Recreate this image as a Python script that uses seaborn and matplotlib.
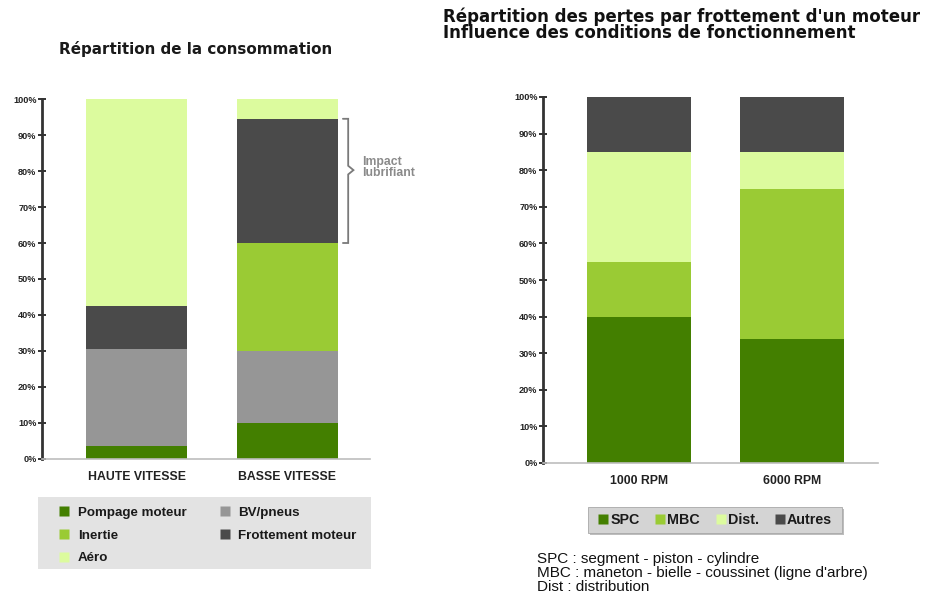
import matplotlib
matplotlib.use("Agg")
import matplotlib.pyplot as plt
import matplotlib.patches as mpatches
from matplotlib.lines import Line2D
import numpy as np
import pandas as pd
import seaborn as sns

# ---------------- data ----------------
left_categories = ["HAUTE VITESSE", "BASSE VITESSE"]
left_series = ["Pompage moteur", "BV/pneus", "Inertie", "Frottement moteur", "Aéro"]
pompage = [3.5, 10.0]
bv_pneus = [27.0, 20.0]
inertie = [0.0, 30.0]
frottement = [12.0, 34.5]
aero = [57.5, 5.5]

right_categories = ["1000 RPM", "6000 RPM"]
right_series = ["SPC", "MBC", "Dist.", "Autres"]
spc = [40.0, 34.0]
mbc = [15.0, 41.0]
dist = [30.0, 10.0]
autres = [15.0, 15.0]

y_ticks = [0, 10, 20, 30, 40, 50, 60, 70, 80, 90, 100]
y_tick_labels = [f"{t}%" for t in y_ticks]

# ---------------- style ----------------
sns.set_theme(style="white")
plt.rcParams["font.family"] = ["Liberation Sans", "DejaVu Sans"]

DARK_GREEN = "#437f00"
LIGHT_GREEN = "#9acb34"
PALE = "#dcfb9e"
GRAY = "#969696"
DARK_GRAY = "#4a4a4a"

left_colors = {"Pompage moteur": DARK_GREEN, "BV/pneus": GRAY, "Inertie": LIGHT_GREEN,
               "Frottement moteur": DARK_GRAY, "Aéro": PALE}
right_colors = {"SPC": DARK_GREEN, "MBC": LIGHT_GREEN, "Dist.": PALE, "Autres": DARK_GRAY}

W, H = 931, 596
fig = plt.figure(figsize=(W / 100, H / 100), dpi=100)
fig.patch.set_facecolor("white")


def fx(px):
    return px / W


def fy(py):
    return 1 - py / H


def stacked(ax, categories, series_names, values, colors, width):
    vals = np.array(values)  # shape (series, cat)
    cum = np.cumsum(vals, axis=0)
    # draw cumulative totals from the top layer down so each segment shows
    for i in range(len(series_names) - 1, -1, -1):
        d = pd.DataFrame({"cat": categories, "val": cum[i]})
        sns.barplot(data=d, x="cat", y="val", order=categories, color=colors[series_names[i]],
                    width=width, errorbar=None, ax=ax, saturation=1, linewidth=0)
    return cum


def style_axis(ax, xlim):
    ax.set_ylim(0, 100)
    ax.set_xlim(*xlim)
    ax.set_yticks(y_ticks)
    ax.set_yticklabels(y_tick_labels, fontsize=6.6, fontweight="bold", color="#222222")
    ax.tick_params(axis="y", direction="inout", length=6, width=1.4, color="#333333", pad=1, left=True)
    ax.tick_params(axis="x", length=0, pad=9)
    for lab in ax.get_xticklabels():
        lab.set_fontsize(8.8)
        lab.set_fontweight("bold")
        lab.set_color("#222222")
    ax.set_xlabel("")
    ax.set_ylabel("")
    ax.spines["top"].set_visible(False)
    ax.spines["right"].set_visible(False)
    ax.spines["left"].set_color("#333333")
    ax.spines["left"].set_linewidth(2.0)
    ax.spines["bottom"].set_color("#bdbdbd")
    ax.spines["bottom"].set_linewidth(1.2)
    ax.set_facecolor("white")


# ---------------- left chart ----------------
axL = fig.add_axes([fx(42), fy(459), fx(370) - fx(42), fy(99) - fy(459)])
left_vals = [pompage, bv_pneus, inertie, frottement, aero]
cumL = stacked(axL, left_categories, left_series, left_vals, left_colors, 0.67)
style_axis(axL, (-0.63, 1.55))

# bracket "Impact lubrifiant" around friction segment of 2nd bar
y_bot = cumL[2][1]
y_top = cumL[3][1]
y_mid = (y_bot + y_top) / 2 + 3
xb = 1 + 0.405
bx = [xb - 0.035, xb, xb, xb + 0.035, xb, xb, xb - 0.035]
by = [y_top, y_top, y_mid + 1.2, y_mid, y_mid - 1.2, y_bot, y_bot]
axL.plot(bx, by, color="#7a7a7a", lw=1.3, clip_on=False, solid_joinstyle="miter")
axL.text(xb + 0.09, y_mid + 0.6, "Impact\nlubrifiant", fontsize=8.8, fontweight="bold", color="#8a8a8a",
         va="center", ha="left", linespacing=0.9, clip_on=False)

fig.text(fx(196), fy(49), "Répartition de la consommation", fontsize=10.9, fontweight="bold",
         color="#1a1a1a", ha="center", va="center", family=["DejaVu Sans"])

# left legend box
fig.patches.append(mpatches.Rectangle((fx(38), fy(569)), fx(371) - fx(38), fy(497) - fy(569),
                                      transform=fig.transFigure, facecolor="#e3e3e3",
                                      edgecolor="none", zorder=0))
order_l = ["Pompage moteur", "Inertie", "Aéro", "BV/pneus", "Frottement moteur"]
handles_l = [Line2D([0], [0], marker="s", linestyle="none", markersize=7,
                    markerfacecolor=left_colors[n], markeredgecolor="none") for n in order_l]
legL = fig.legend(handles_l, order_l, loc="upper left", bbox_to_anchor=(fx(47), fy(496)),
                  ncol=2, frameon=False, prop={"size": 9.6, "weight": "bold"},
                  handlelength=1.0, handletextpad=0.5, columnspacing=2.4, labelspacing=0.78,
                  borderpad=0.3)
for t in legL.get_texts():
    t.set_color("#1a1a1a")

# ---------------- right chart ----------------
axR = fig.add_axes([fx(543), fy(463), fx(878) - fx(543), fy(97) - fy(463)])
right_vals = [spc, mbc, dist, autres]
stacked(axR, right_categories, right_series, right_vals, right_colors, 0.68)
style_axis(axR, (-0.627, 1.56))

fig.text(fx(443), fy(25), "Répartition des pertes par frottement d'un moteur\nInfluence des conditions de fonctionnement",
         fontsize=12, fontweight="bold", color="#111111", ha="left", va="center", linespacing=0.88,
         family=["DejaVu Sans"])

# right legend box with shadow
fig.patches.append(mpatches.Rectangle((fx(590), fy(535)), fx(844) - fx(590), fy(507) - fy(533),
                                      transform=fig.transFigure, facecolor="#bdbdbd",
                                      edgecolor="none", zorder=0))
fig.patches.append(mpatches.Rectangle((fx(588), fy(533)), fx(842) - fx(588), fy(507) - fy(533),
                                      transform=fig.transFigure, facecolor="#d4d4d4",
                                      edgecolor="#a8a8a8", linewidth=0.6, zorder=0))
handles_r = [Line2D([0], [0], marker="s", linestyle="none", markersize=7.5,
                    markerfacecolor=right_colors[n], markeredgecolor="none") for n in right_series]
legR = fig.legend(handles_r, right_series, loc="center", bbox_to_anchor=(fx(715), fy(520)),
                  ncol=4, frameon=False, prop={"size": 10.3, "weight": "bold"},
                  handlelength=0.7, handletextpad=0.15, columnspacing=1.1, borderpad=0.1)
for t in legR.get_texts():
    t.set_color("#1a1a1a")

fig.text(fx(537), fy(573),
         "SPC : segment - piston - cylindre\nMBC : maneton - bielle - coussinet (ligne d'arbre)\nDist : distribution",
         fontsize=11, color="#111111", ha="left", va="center", linespacing=0.97)

fig.savefig("out.png", dpi=100, facecolor="white")
